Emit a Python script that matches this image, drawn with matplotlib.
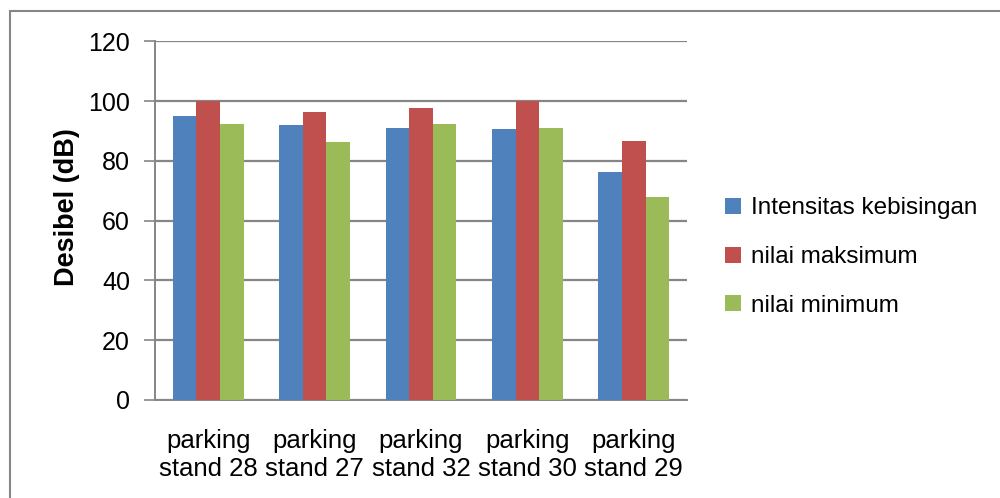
import matplotlib.pyplot as plt
import numpy as np
from matplotlib.patches import Rectangle

plt.rcParams['font.family'] = ['Liberation Sans', 'DejaVu Sans']

lokasi = ['parking\nstand 28', 'parking\nstand 27', 'parking\nstand 32',
          'parking\nstand 30', 'parking\nstand 29']
intensitas = [95.0, 92.1, 91.0, 90.6, 76.3]
nilai_maks = [100.0, 96.4, 97.7, 100.0, 86.6]
nilai_min = [92.4, 86.3, 92.2, 90.9, 67.9]

fig = plt.figure(figsize=(10, 4.98), dpi=100)
ax = fig.add_axes([0.155, 0.197, 0.532, 0.72])

x = np.arange(len(lokasi))
w = 0.222
ax.bar(x - w, intensitas, w, color='#4F81BD', label='Intensitas kebisingan', zorder=3)
ax.bar(x, nilai_maks, w, color='#C0504D', label='nilai maksimum', zorder=3)
ax.bar(x + w, nilai_min, w, color='#9BBB59', label='nilai minimum', zorder=3)

ax.set_xlim(-0.5, 4.5)
ax.set_ylim(0, 120)
ax.set_yticks(range(0, 121, 20))
ax.set_xticks(x)
ax.set_xticklabels(lokasi, fontsize=18.5, linespacing=1.2)
ax.tick_params(axis='y', labelsize=18, length=8, width=1.2, color='#868686', pad=10)
ax.tick_params(axis='x', length=0, pad=21)

ax.grid(axis='y', color='#868686', linewidth=1.6, zorder=0)
for s in ['top', 'right']:
    ax.spines[s].set_visible(False)
for s in ['left', 'bottom']:
    ax.spines[s].set_color('#868686')
    ax.spines[s].set_linewidth(1.4)

ax.set_ylabel('Desibel (dB)', fontsize=19.5, fontweight='bold')
ax.yaxis.set_label_coords(-0.141, 0.538)

ax.legend(loc='center left', bbox_to_anchor=(1.031, 0.398), frameon=False,
          fontsize=17.5, handlelength=0.65, handleheight=0.65, handletextpad=0.4,
          labelspacing=1.1)

# outer chart frame
fig.patches.append(Rectangle((0.01, -0.05), 1.05, 0.05 + 1 - 11 / 498,
                             transform=fig.transFigure, fill=False,
                             edgecolor='#868686', linewidth=1.5, zorder=0))

fig.savefig('out.png', dpi=100)
